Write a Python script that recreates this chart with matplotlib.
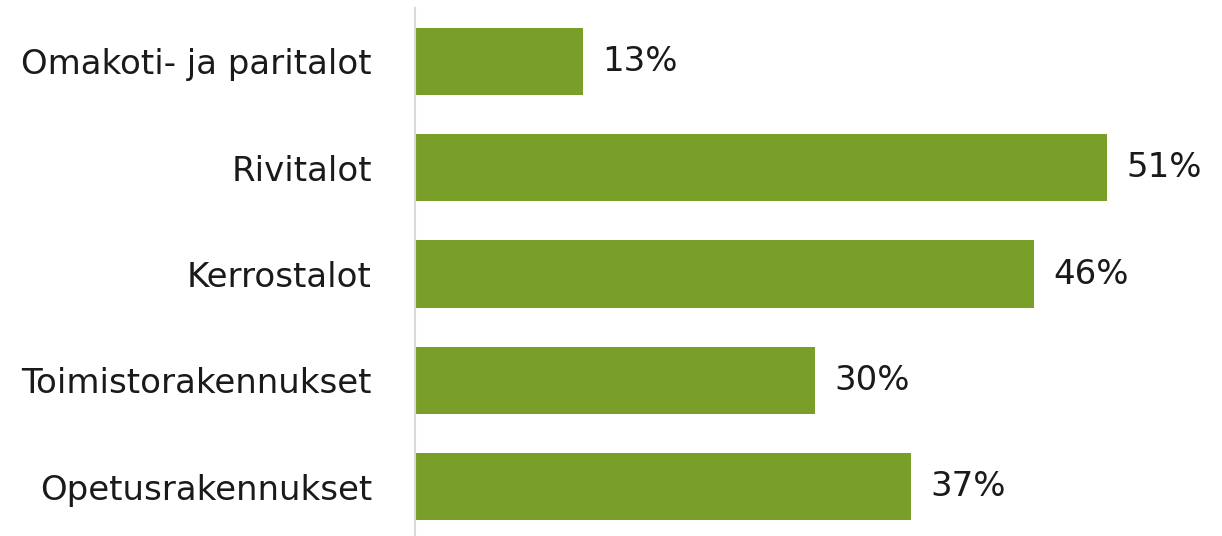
import matplotlib
import matplotlib.pyplot as plt

matplotlib.use("Agg")

categories = [
    "Omakoti- ja paritalot",
    "Rivitalot",
    "Kerrostalot",
    "Toimistorakennukset",
    "Opetusrakennukset",
]
# bar lengths as measured; labels as printed on the chart
values = [12.5, 51.5, 46.1, 29.8, 36.9]
labels = ["13%", "51%", "46%", "30%", "37%"]

W, H = 1222, 536
fig = plt.figure(figsize=(W / 100, H / 100), dpi=100)
ax = fig.add_axes([415 / W, -4 / H, 780 / W, 532 / H])

ypos = range(len(categories))
bars = ax.barh(ypos, values, height=0.63, color="#7A9F28")
ax.set_ylim(len(categories) - 0.5, -0.5)
ax.set_xlim(0, 58.06)

for bar, lab in zip(bars, labels):
    ax.annotate(
        lab,
        (bar.get_width(), bar.get_y() + bar.get_height() / 2),
        xytext=(14, 0),
        textcoords="offset points",
        va="center",
        ha="left",
        fontsize=24.5,
        color="#1a1a1a",
    )

ax.set_yticks(list(ypos))
ax.set_yticklabels(categories, fontsize=24.5, color="#1a1a1a")
ax.tick_params(axis="y", length=0, pad=31)
ax.set_xticks([])
for side in ["top", "right", "bottom"]:
    ax.spines[side].set_visible(False)
ax.spines["left"].set_color("#d9d9d9")
ax.spines["left"].set_linewidth(1.5)

fig.savefig("out.png", dpi=100)
plt.close(fig)
